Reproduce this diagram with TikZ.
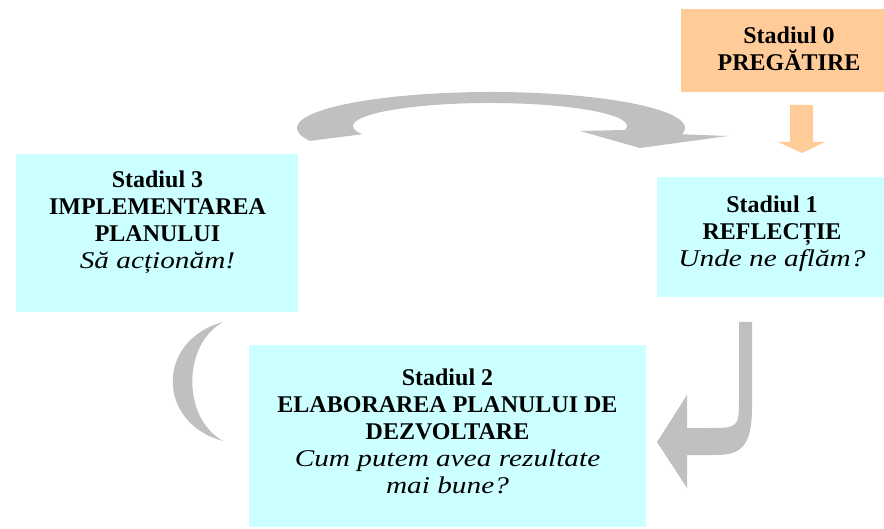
\documentclass[tikz,border=0pt]{standalone}
\usepackage{fontspec}
\usepackage{tikz}
\usepackage{xcolor}
\usetikzlibrary{calc}
\setmainfont{Liberation Serif}
\newfontfamily\stageitfam{Liberation Serif}[FakeStretch=1.22]
\definecolor{stagecyan}{HTML}{CCFFFF}
\definecolor{stagepeach}{HTML}{FFCC99}
\definecolor{loopgray}{HTML}{C0C0C0}
\newcommand{\stageq}[1]{{\normalfont\stageitfam\itshape #1}}
\tikzset{
    stage-box/.style = {fill=stagecyan, draw=none, rectangle, inner sep=0pt},
    start-box/.style = {stage-box, fill=stagepeach},
    stage-text/.style = {align=center, inner sep=0pt, font=\fontsize{24}{27}\selectfont\bfseries},
    loop-arrow/.style = {fill=loopgray, draw=none},
}

\begin{document}
\begin{tikzpicture}[x=1pt, y=1pt]
\useasboundingbox (0,0) rectangle (884,528);

\node [start-box, minimum width=217pt, minimum height=83pt] (s0) at (789.5,477.5) {};
\node [stage-text] (s0text) at (789,479.5) {Stadiul 0\\PREGĂTIRE};

\node [stage-box, minimum width=227pt, minimum height=120pt] (s1) at (770.5,291) {};
\node [stage-text] (s1text) at (772,294.5) {Stadiul 1\\REFLECȚIE\\\stageq{Unde ne aflăm?}};

\node [stage-box, minimum width=397pt, minimum height=182pt] (s2) at (447.5,92) {};
\node [stage-text] (s2text) at (447.5,96.5) {Stadiul 2\\ELABORAREA PLANULUI DE\\DEZVOLTARE\\\stageq{Cum putem avea rezultate}\\\stageq{mai bune?}};

\node [stage-box, minimum width=282pt, minimum height=158pt] (s3) at (157,295) {};
\node [stage-text] (s3text) at (157.5,305.5) {Stadiul 3\\IMPLEMENTAREA\\PLANULUI\\\stageq{Să acționăm!}};

\fill [stagepeach] (790,423) -- (813,423) -- (813,386) -- (825,386) -- (802,375)
    -- (778,386) -- (790,386) -- cycle;

\fill [loop-arrow] (491,400) ++(201:194 and 36)
    arc [start angle=201, end angle=-10, x radius=194, y radius=36]
    -- (728,392) -- (640,380) -- (580,397)
    -- ($(490,402)+(-10:137 and 23)$)
    arc [start angle=-10, end angle=201, x radius=137, y radius=23] -- cycle;

\fill [loop-arrow] (739,206) -- (752,206) -- (752,121)
    .. controls (752,80) and (740,73) .. (715,73) -- (687,73) -- (687,40)
    -- (657,86) -- (687,133) -- (687,100) -- (707,100)
    .. controls (739,100) .. (739,131) -- cycle;

\fill [loop-arrow] (223,206) .. controls (156,188) and (156,105) .. (223,87)
    .. controls (182,110) and (182,183) .. (223,206) -- cycle;
\end{tikzpicture}
\end{document}
